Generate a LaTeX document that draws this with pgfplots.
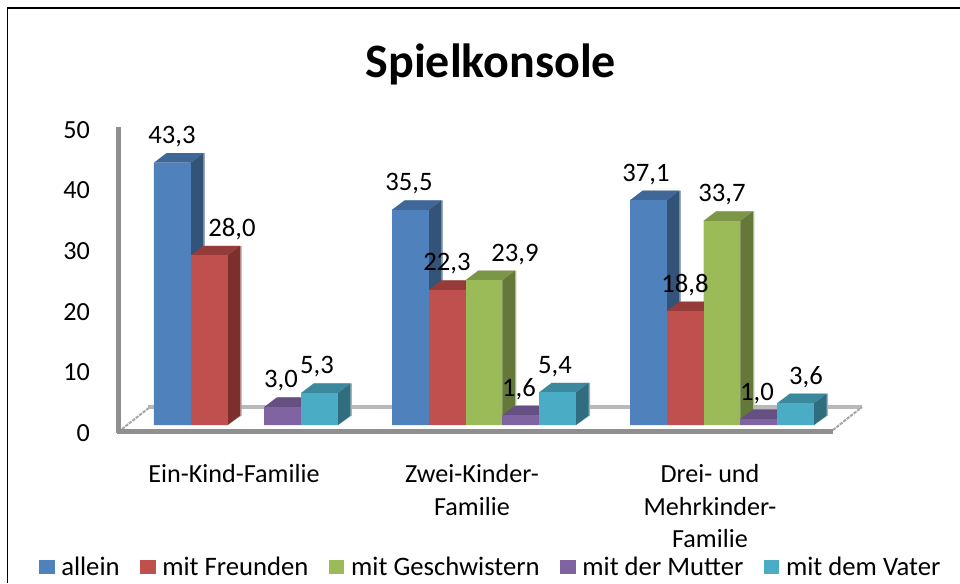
\documentclass[border=0pt]{standalone}
\usepackage{fontspec}
\setmainfont{Carlito}
\usepackage{pgfplots}
\usepackage{pgfplotstable}
\pgfplotsset{compat=1.18}

\definecolor{cBlue}{HTML}{4F81BD}
\definecolor{cBlueT}{HTML}{3F6797}
\definecolor{cBlueS}{HTML}{335378}
\definecolor{cRed}{HTML}{C0504D}
\definecolor{cRedT}{HTML}{953B39}
\definecolor{cRedS}{HTML}{7B302E}
\definecolor{cGreen}{HTML}{9BBB59}
\definecolor{cGreenT}{HTML}{7C9647}
\definecolor{cGreenS}{HTML}{637839}
\definecolor{cPurple}{HTML}{8064A2}
\definecolor{cPurpleT}{HTML}{664F82}
\definecolor{cPurpleS}{HTML}{523F68}
\definecolor{cCyan}{HTML}{4BACC6}
\definecolor{cCyanT}{HTML}{3C899E}
\definecolor{cCyanS}{HTML}{306E7F}

% x: group 0,1,2 -- dx: label offset from the group centre, in px
\pgfplotstableread{
x y dx
0 43.3 -74
1 35.5 -75
2 37.1 -76
}\tabAllein
\pgfplotstableread{
x y dx
0 28.0 -14
1 22.3 -37
2 18.8 -37
}\tabFreunde
\pgfplotstableread{
x y dx
1 23.9 31
2 33.7 0
}\tabGeschw
\pgfplotstableread{
x y dx
0 3.0 35
1 1.6 35
2 1.0 35
}\tabMutter
\pgfplotstableread{
x y dx
0 5.3 71
1 5.4 71
2 3.6 84
}\tabVater

% whole bar as a mark (marks come out above the ybar plots, so the front is
% repeated here); origin is the data point at the group centre
\newcommand\boxmark[5]{%
  \pgfdeclareplotmark{box#1}{%
    \pgfmathsetlengthmacro\hh{\rawy*6.06*0.75pt}%
    \pgfmathsetlengthmacro\xl{(#2-18.4)*0.75pt}%
    \pgfmathsetlengthmacro\xr{(#2+18.4)*0.75pt}%
    \pgfmathsetlengthmacro\xrb{(#2+18.4+12.5)*0.75pt}%
    \pgfmathsetlengthmacro\xlb{(#2-18.4+12.5)*0.75pt}%
    \pgfmathsetlengthmacro\xrs{(#2+18.4+14)*0.75pt}%
    \pgfmathsetlengthmacro\dd{9.5*0.75pt}%
    \pgfsetfillcolor{#4!50!white}%
    \pgfpathmoveto{\pgfqpoint{\xr}{0pt}}%
    \pgfpathlineto{\pgfqpoint{\xlb}{\dd}}%
    \pgfpathlineto{\pgfqpoint{\xrs}{\dd}}%
    \pgfpathlineto{\pgfpoint{\xrs}{\dd-\hh}}%
    \pgfpathlineto{\pgfpoint{\xr}{-\hh}}%
    \pgfpathclose\pgfusepath{fill}%
    \pgfsetfillcolor{#4}%
    \pgfpathmoveto{\pgfqpoint{\xr}{0pt}}%
    \pgfpathlineto{\pgfqpoint{\xrb}{\dd}}%
    \pgfpathlineto{\pgfpoint{\xrb}{\dd-\hh}}%
    \pgfpathlineto{\pgfpoint{\xr}{-\hh}}%
    \pgfpathclose\pgfusepath{fill}%
    \pgfsetfillcolor{#3}%
    \pgfpathmoveto{\pgfqpoint{\xl}{0pt}}%
    \pgfpathlineto{\pgfqpoint{\xlb}{\dd}}%
    \pgfpathlineto{\pgfqpoint{\xrb}{\dd}}%
    \pgfpathlineto{\pgfqpoint{\xr}{0pt}}%
    \pgfpathclose\pgfusepath{fill}%
    \pgfsetfillcolor{#5}%
    \pgfpathrectanglecorners{\pgfqpoint{\xl}{0pt}}{\pgfpoint{\xr}{-\hh}}%
    \pgfusepath{fill}%
  }%
}
\boxmark{A}{-73.6}{cBlueT}{cBlueS}{cBlue}
\boxmark{B}{-36.8}{cRedT}{cRedS}{cRed}
\boxmark{C}{0}{cGreenT}{cGreenS}{cGreen}
\boxmark{D}{36.8}{cPurpleT}{cPurpleS}{cPurple}
\boxmark{E}{73.6}{cCyanT}{cCyanS}{cCyan}

\pgfplotsset{
  faces/.style={forget plot, only marks, scatter, scatter src=y,
    mark=box#1, visualization depends on={rawy\as\rawy}},
  front/.style 2 args={ybar, bar width=27.6pt, bar shift=#1*0.75pt,
    draw=none, fill=#2,
    legend image code/.code={\fill[##1] (0pt,-5.2pt) rectangle (11.5pt,5.2pt);}},
  vals/.style={forget plot, only marks, mark=none,
    point meta=y, visualization depends on={\thisrow{dx}\as\dx},
    nodes near coords={\pgfmathprintnumber[fixed, fixed zerofill, precision=1,
      use comma, assume math mode=true]{\pgfplotspointmeta}},
    every node near coord/.append style={font=\fontsize{20}{24}\selectfont,
      text=black, anchor=center, inner sep=0pt,
      xshift=\dx*0.75pt, yshift=19.4pt}},
}

\begin{document}
\begin{tikzpicture}
\begin{scope}[shift={(-88.5pt,318.75pt)},x=0.75pt,y=-0.75pt]
  \path[use as bounding box] (0,0) rectangle (960,583);
  \fill[white] (0,0) rectangle (960,583);
  \draw[black,line width=1.3pt] (7.5,583) -- (7.5,8) -- (960,8);
  % chart floor and back wall
  \draw[gray!55,line width=3pt] (148,407) -- (862,407);
  \draw[gray!70,line width=1.5pt,dash pattern=on 2.5pt off .8pt] (122,429) -- (150,407);
  \draw[gray!70,line width=1.5pt,dash pattern=on 2.5pt off .8pt] (833,430) -- (862,407);
  \draw[gray!90!black!80,line width=3.2pt] (118.5,127) -- (118.5,433);
  \draw[gray!90!black!80,line width=3.2pt] (117,431.5) -- (833,431.5);
\end{scope}
\begin{axis}[
    scale only axis,
    width=536.25pt, height=227.25pt,
    xmin=-0.5378, xmax=2.4664,
    ymin=0, ymax=50,
    clip=false,
    axis line style={draw=none},
    major tick length=0pt,
    axis on top=false,
    xtick={0,1,2},
    xticklabels={Ein-Kind-Familie,Zwei-Kinder-\\Familie,Drei- und\\Mehrkinder-\\Familie},
    xticklabel style={font=\fontsize{19.6}{24.4}\selectfont, align=center,
      anchor=north, xshift=-9pt, yshift=-26pt},
    ytick={0,10,20,30,40,50},
    yticklabel style={font=\fontsize{19.6}{24}\selectfont, anchor=east,
      xshift=-17.5pt, yshift=-6pt},
    /pgf/number format/assume math mode=true,
    title={\fontsize{36}{42}\selectfont\bfseries Spielkonsole},
    title style={at={(0.5,1)}, anchor=center, xshift=11.5pt, yshift=37.5pt},
    legend style={at={(-0.1105,-0.4686)}, anchor=west, draw=none, fill=none,
      font=\fontsize{20}{24}\selectfont, legend columns=5, inner sep=0pt,
      /tikz/every odd column/.append style={column sep=3pt},
      /tikz/every even column/.append style={column sep=13.5pt}},
]
\addplot[faces=A] table[x=x,y=y] {\tabAllein};
\addplot[front={-73.6}{cBlue}] table[x=x,y=y] {\tabAllein};
\addplot[faces=B] table[x=x,y=y] {\tabFreunde};
\addplot[front={-36.8}{cRed}] table[x=x,y=y] {\tabFreunde};
\addplot[faces=C] table[x=x,y=y] {\tabGeschw};
\addplot[front={0}{cGreen}] table[x=x,y=y] {\tabGeschw};
\addplot[faces=D] table[x=x,y=y] {\tabMutter};
\addplot[front={36.8}{cPurple}] table[x=x,y=y] {\tabMutter};
\addplot[faces=E] table[x=x,y=y] {\tabVater};
\addplot[front={73.6}{cCyan}] table[x=x,y=y] {\tabVater};
\addplot[vals] table[x=x,y=y] {\tabAllein};
\addplot[vals] table[x=x,y=y] {\tabFreunde};
\addplot[vals] table[x=x,y=y] {\tabGeschw};
\addplot[vals] table[x=x,y=y] {\tabMutter};
\addplot[vals] table[x=x,y=y] {\tabVater};
\legend{allein,mit Freunden,mit Geschwistern,mit der Mutter,mit dem Vater}
\end{axis}
\end{tikzpicture}
\end{document}
